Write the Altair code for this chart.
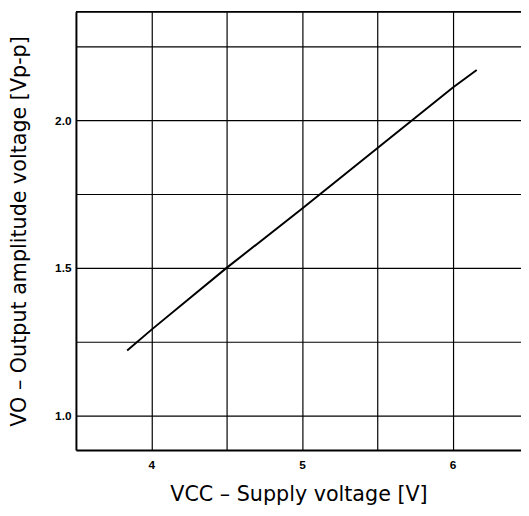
import altair as alt
import pandas as pd

# Data
vcc = [3.84, 4.0, 4.5, 5.0, 5.5, 6.0, 6.16]
vo = [1.22, 1.29, 1.50, 1.70, 1.905, 2.11, 2.17]

x_domain = [3.5, 6.454]
y_domain = [0.883, 2.367]
x_grid = [4.0, 4.5, 5.0, 5.5, 6.0]
y_grid = [1.0, 1.25, 1.5, 1.75, 2.0, 2.25]

df = pd.DataFrame({"vcc": vcc, "vo": vo})

TITLE_FONT = "DejaVu Sans"
TITLE_SIZE = 21

x_enc = alt.X(
    "vcc:Q",
    scale=alt.Scale(domain=x_domain, nice=False, zero=False),
    axis=alt.Axis(
        values=x_grid,
        labelExpr="datum.value % 1 == 0 ? format(datum.value, 'd') : ''",
        title="VCC – Supply voltage [V]",
        titleFont=TITLE_FONT,
        titleFontSize=TITLE_SIZE,
        titleFontWeight="normal",
        titleColor="black",
        titleY=45,
        titleBaseline="middle",
        labelFont="Liberation Sans",
        labelFontSize=12,
        labelFontWeight="bold",
        labelColor="black",
        labelPadding=10,
        ticks=False,
        grid=True,
        gridColor="black",
        gridWidth=1.2,
        gridOpacity=1,
        domainColor="black",
        domainWidth=2,
    ),
)

y_enc = alt.Y(
    "vo:Q",
    scale=alt.Scale(domain=y_domain, nice=False, zero=False),
    axis=alt.Axis(
        values=y_grid,
        labelExpr="(datum.value * 2) % 1 == 0 ? format(datum.value, '.1f') : ''",
        title="VO – Output amplitude voltage [Vp-p]",
        titleFont=TITLE_FONT,
        titleFontSize=TITLE_SIZE,
        titleFontWeight="normal",
        titleColor="black",
        titleX=-57,
        titleBaseline="middle",
        labelFont="Liberation Sans",
        labelFontSize=12,
        labelFontWeight="bold",
        labelColor="black",
        labelPadding=5,
        ticks=False,
        grid=True,
        gridColor="black",
        gridWidth=1.2,
        gridOpacity=1,
        domainColor="black",
        domainWidth=2,
    ),
)

line = alt.Chart(df).mark_line(color="black", strokeWidth=2).encode(x=x_enc, y=y_enc)

top_border = alt.Chart(pd.DataFrame({"t": [y_domain[1]]})).mark_rule(
    color="black", strokeWidth=2
).encode(y=alt.Y("t:Q"))

chart = (
    alt.layer(line, top_border)
    .properties(
        width=452,
        height=445,
        autosize=alt.AutoSizeParams(type="none"),
        padding={"left": 69, "top": 0, "right": 0, "bottom": 60},
    )
    .configure_view(stroke=None)
    .configure(background="white")
)

chart.save("out.html", embed_options={"renderer": "svg", "actions": False})
